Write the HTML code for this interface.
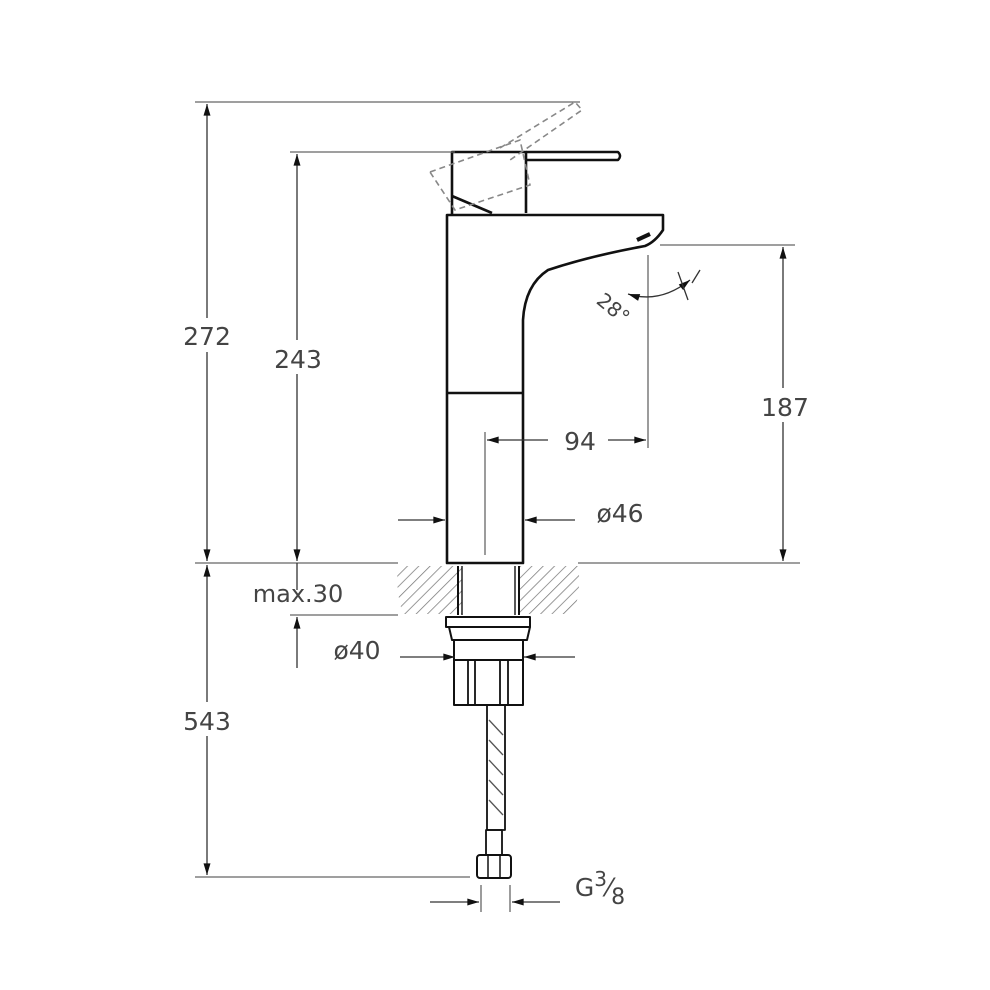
<!DOCTYPE html>
<html><head><meta charset="utf-8"><style>body{margin:0;background:#fff}svg{display:block}</style></head><body>
<svg width="990" height="990" viewBox="0 0 990 990" xmlns="http://www.w3.org/2000/svg" font-family="DejaVu Sans, Liberation Sans, sans-serif">
<defs>
<marker id="a" viewBox="0 0 10 6" refX="10" refY="3" markerWidth="14" markerHeight="7" orient="auto-start-reverse" markerUnits="userSpaceOnUse"><path d="M0,0L10,3L0,6z" fill="#111"/></marker>
<pattern id="h" width="8" height="8" patternUnits="userSpaceOnUse" patternTransform="rotate(45)"><line x1="0" y1="0" x2="0" y2="8" stroke="#777" stroke-width="1.5"/></pattern>
</defs>
<!-- counter -->
<path d="M398 566 L462 566 L462 614 L403 614 Q395 590 398 566Z" fill="url(#h)"/>
<path d="M519 566 L578 566 Q582 590 573 614 L519 614Z" fill="url(#h)"/>
<!-- body -->
<g stroke="#111" stroke-width="2.6" fill="none" stroke-linejoin="round">
<path d="M447 563 L447 215 L663 215 L663 230 Q655 242 645 246 Q590 256 548 270 Q525 285 523 320 L523 563 Z" fill="#fff"/>
<line x1="447" y1="393" x2="523" y2="393"/>
<path d="M637 240 L650 234" stroke-width="4"/>
<path d="M452 215 L452 152 L526 152 L526 213"/>
<path d="M452 196 L492 213"/>
<path d="M526 152 L618 152 Q622 156 618 160 L526 160" stroke-width="2.4"/>
<line x1="458" y1="566" x2="458" y2="615" stroke-width="2"/><line x1="462" y1="566" x2="462" y2="615" stroke-width="1.4"/>
<line x1="519" y1="566" x2="519" y2="615" stroke-width="2"/><line x1="515" y1="566" x2="515" y2="615" stroke-width="1.4"/>
<rect x="446" y="617" width="84" height="10" stroke-width="2"/>
<path d="M449 627 L452 640 L527 640 L530 627" stroke-width="2"/>
<rect x="454" y="640" width="69" height="20" stroke-width="2"/>
<rect x="454" y="660" width="69" height="45" stroke-width="2"/>
<line x1="468" y1="660" x2="468" y2="705" stroke-width="1.8"/><line x1="475" y1="660" x2="475" y2="705" stroke-width="1.8"/>
<line x1="500" y1="660" x2="500" y2="705" stroke-width="1.8"/><line x1="508" y1="660" x2="508" y2="705" stroke-width="1.8"/>
<rect x="487" y="705" width="18" height="125" stroke-width="1.8"/>
<rect x="486" y="830" width="16" height="25" stroke-width="1.8"/>
<rect x="477" y="855" width="34" height="23" rx="3" stroke-width="2"/>
<line x1="488" y1="855" x2="488" y2="878" stroke-width="1.5"/><line x1="500" y1="855" x2="500" y2="878" stroke-width="1.5"/>
</g>
<g stroke="#555" stroke-width="1.3">
<path d="M489 720 L503 735 M489 740 L503 755 M489 760 L503 775 M489 780 L503 795 M489 800 L503 815"/>
</g>
<g stroke="#888" stroke-width="1.6" fill="none" stroke-dasharray="6 4">
<path d="M430 172 L520 140 L530 185 L455 210 Z"/>
<path d="M500 148 L575 102 L582 110 L510 160"/>
</g>
<g stroke="#666" stroke-width="1.3" fill="none">
<line x1="195" y1="102" x2="580" y2="102"/>
<line x1="290" y1="152" x2="455" y2="152"/>
<line x1="195" y1="563" x2="398" y2="563"/>
<line x1="578" y1="563" x2="800" y2="563"/>
<line x1="660" y1="245" x2="795" y2="245"/>
<line x1="648" y1="255" x2="648" y2="448"/>
<line x1="485" y1="432" x2="485" y2="555"/>
<line x1="290" y1="615" x2="398" y2="615"/>
<line x1="195" y1="877" x2="470" y2="877"/>
<line x1="481" y1="885" x2="481" y2="912"/>
<line x1="510" y1="885" x2="510" y2="912"/>
</g>
<g stroke="#333" stroke-width="1.3" fill="none">
<line x1="207" y1="104" x2="207" y2="561" marker-start="url(#a)" marker-end="url(#a)"/>
<line x1="297" y1="154" x2="297" y2="561" marker-start="url(#a)" marker-end="url(#a)"/>
<line x1="783" y1="247" x2="783" y2="561" marker-start="url(#a)" marker-end="url(#a)"/>
<line x1="207" y1="565" x2="207" y2="875" marker-start="url(#a)" marker-end="url(#a)"/>
<line x1="297" y1="617" x2="297" y2="668" marker-start="url(#a)"/>
<line x1="297" y1="563" x2="297" y2="590"/>
<line x1="487" y1="440" x2="646" y2="440" marker-start="url(#a)" marker-end="url(#a)"/>
<line x1="398" y1="520" x2="445" y2="520" marker-end="url(#a)"/>
<line x1="575" y1="520" x2="525" y2="520" marker-end="url(#a)"/>
<line x1="400" y1="657" x2="455" y2="657" marker-end="url(#a)"/>
<line x1="575" y1="657" x2="524" y2="657" marker-end="url(#a)"/>
<line x1="430" y1="902" x2="479" y2="902" marker-end="url(#a)"/>
<line x1="560" y1="902" x2="512" y2="902" marker-end="url(#a)"/>
<path d="M628 294 Q660 304 690 280" marker-start="url(#a)" marker-end="url(#a)"/>
<line x1="678" y1="272" x2="688" y2="300"/>
<line x1="692" y1="283" x2="700" y2="270"/>
</g>
<g fill="#fff">
<rect x="172" y="318" width="70" height="34"/><rect x="262" y="340" width="72" height="34"/>
<rect x="748" y="388" width="72" height="34"/><rect x="172" y="702" width="70" height="34"/>
<rect x="548" y="424" width="60" height="32"/>
</g>
<g fill="#444" font-size="25" text-anchor="middle">
<text x="207" y="345">272</text><text x="298" y="368">243</text>
<text x="785" y="416">187</text><text x="207" y="730">543</text>
<text x="580" y="450">94</text><text x="620" y="522">ø46</text>
<text x="298" y="602" font-size="24">max.30</text><text x="357" y="659">ø40</text>
<text x="600" y="896">G<tspan font-size="20" dy="-10">3</tspan><tspan dy="10">⁄</tspan><tspan font-size="22" dy="8">8</tspan></text>
<text x="612" y="315" font-size="20" transform="rotate(40 612 310)">28°</text>
</g>
</svg>
</body></html>
